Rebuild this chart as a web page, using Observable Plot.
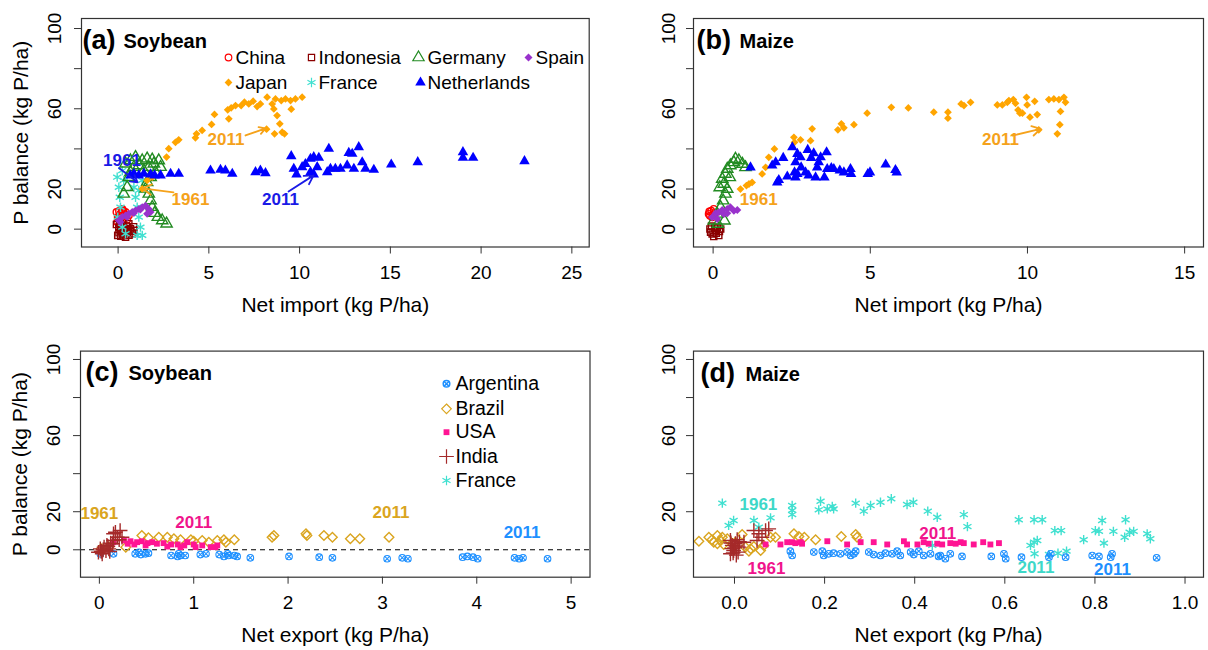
<!DOCTYPE html>
<html><head><meta charset="utf-8">
<script src="https://cdn.jsdelivr.net/npm/d3@7"></script>
<script src="https://cdn.jsdelivr.net/npm/@observablehq/plot@0.6"></script>
<style>
body{margin:0;background:#fff;font-family:"Liberation Sans",Arial,sans-serif;}
#wrap{position:relative;width:1208px;height:650px;overflow:hidden;}
#wrap svg{position:absolute;}
</style></head><body><div id="wrap"></div>
<script>
// ---------- (a) Soybean, net import: [net import, P balance] ----------
const soyImpChina = [[-0.09,8.5],[-0.02,6.0],[0.13,7.7],[0.28,9.3],[0.41,8.5],[0.59,6.8],[0.09,4.3],[-0.05,3.5],[0.50,4.7],[0.23,10.1],[0.35,6.5],[0.15,5.5],[0.05,9.0],[0.20,8.2],[0.45,7.2],[0.02,5.0],[0.30,4.0]];
const soyImpIndonesia = [[-0.09,2.3],[0.04,1.0],[0.13,-0.6],[0.31,-2.3],[0.50,-1.5],[0.68,0.2],[0.78,-2.3],[-0.02,-3.1],[0.23,1.8],[0.59,2.7],[0.87,-0.6],[0.41,-4.0],[0.20,-1.0],[0.60,-3.0],[0.05,-1.8],[0.15,-3.5],[0.32,0.5],[0.45,1.5],[0.70,-1.2],[0.85,1.2],[0.10,2.8],[0.38,-0.8],[0.55,-0.2],[0.25,-2.8]];
const soyImpGermany = [[0.41,32.6],[0.68,34.2],[0.96,35.9],[1.33,34.2],[1.60,35.1],[1.88,34.6],[2.24,34.2],[2.34,30.9],[2.06,28.4],[1.79,25.9],[1.60,23.4],[1.51,20.1],[1.69,17.6],[1.79,14.3],[1.88,11.0],[2.01,8.0],[2.19,6.0],[2.43,4.3],[2.67,2.7],[0.50,20.9],[0.31,17.6],[0.59,25.9],[0.87,30.9],[1.42,29.2],[1.14,31.7],[1.97,32.6],[0.68,28.4],[1.69,30.9]];
const soyImpSpain = [[0.04,4.3],[0.23,6.0],[0.41,6.8],[0.59,7.7],[0.78,8.5],[0.96,9.3],[1.14,10.1],[1.33,10.9],[1.51,11.7],[1.69,10.1],[1.79,8.5],[1.60,7.7],[0.13,3.5],[0.50,6.0],[0.87,8.0],[1.23,9.8]];
const soyImpJapan = [[1.33,20.1],[1.60,24.3],[1.88,25.9],[2.67,35.9],[2.79,40.1],[3.16,43.3],[3.34,44.5],[4.26,45.5],[4.32,47.5],[4.63,49.2],[5.15,52.2],[5.31,57.2],[6.10,55.0],[6.04,59.5],[6.23,60.5],[6.47,61.6],[6.78,61.6],[6.96,63.3],[7.20,62.4],[7.44,63.8],[7.66,61.1],[7.84,62.4],[8.21,65.8],[8.49,62.4],[8.58,59.9],[8.76,56.6],[8.91,52.5],[9.04,48.3],[8.62,47.5],[9.17,47.5],[8.67,64.9],[8.99,64.1],[9.22,64.9],[9.50,64.1],[9.77,64.9],[10.14,65.8],[9.54,59.8],[8.18,49.8]];
const soyImpFrance = [[-0.05,25.9],[0.04,20.9],[0.09,15.9],[0.13,10.9],[-0.02,6.0],[0.23,1.0],[0.41,-2.3],[0.23,29.2],[0.31,24.3],[0.87,20.9],[0.96,15.9],[1.05,10.9],[1.14,6.0],[1.23,1.0],[1.05,-3.1],[1.33,-3.1],[1.14,19.3],[1.33,24.3]];
const soyImpNetherlands = [[0.68,26.8],[0.87,27.6],[1.14,26.8],[1.42,27.6],[1.79,27.3],[2.01,26.8],[2.34,26.8],[2.89,27.6],[3.34,27.6],[5.09,29.2],[5.64,29.6],[5.91,29.2],[6.29,27.6],[7.57,28.4],[7.84,29.2],[8.12,27.9],[9.54,36.4],[9.68,30.1],[9.83,27.3],[10.14,30.9],[10.32,32.5],[10.60,35.1],[10.78,35.9],[11.06,35.6],[10.60,28.4],[10.78,27.3],[10.97,30.9],[11.61,40.1],[11.52,28.4],[11.70,30.1],[11.97,30.1],[12.25,30.1],[12.62,31.8],[12.71,38.0],[12.90,37.6],[13.26,40.9],[12.99,30.1],[13.45,33.3],[13.63,30.1],[14.09,29.6],[15.05,32.2],[16.51,33.4],[19.0,38.4],[19.0,35.6],[19.56,35.6],[22.39,33.9]];

// ---------- (b) Maize, net import ----------
const maizeImpChina = [[-0.14,7.6],[-0.06,9.2],[0.02,10.1],[-0.03,5.9],[-0.10,6.7],[-0.12,8.8],[0.05,8.0]];
const maizeImpIndonesia = [[-0.10,0.1],[-0.03,-2.4],[0.08,-0.7],[0.18,-3.2],[0.24,0.1],[0.02,-3.7],[0.13,0.9],[-0.05,1.5],[0.10,-2.0],[0.20,-1.2],[-0.08,-1.5],[0.05,0.5]];
const maizeImpGermany = [[0.02,4.2],[0.13,7.6],[0.24,10.9],[0.32,14.2],[0.39,17.6],[0.45,20.0],[0.34,22.5],[0.29,25.0],[0.39,27.5],[0.45,30.0],[0.55,31.7],[0.66,33.3],[0.71,35.0],[0.82,34.2],[0.93,32.5],[1.03,30.8],[0.53,25.8],[0.21,20.8],[0.15,2.6],[0.36,4.2]];
const maizeImpSpain = [[-0.03,5.9],[0.08,7.9],[0.18,8.4],[0.29,9.6],[0.45,10.1],[0.55,10.9],[0.66,9.2],[0.77,9.6],[0.34,7.6],[0.13,5.1],[0.45,7.9]];
const maizeImpJapan = [[0.87,20.0],[1.06,21.7],[1.14,22.5],[1.24,23.3],[1.56,27.5],[1.67,30.8],[1.77,35.8],[1.95,40.0],[2.57,45.8],[2.59,43.3],[2.78,44.5],[3.10,44.1],[3.15,50.0],[3.97,49.5],[4.08,52.5],[4.16,50.5],[4.48,52.1],[4.90,57.8],[5.67,60.7],[6.21,60.4],[7.02,58.3],[7.47,58.3],[7.47,55.3],[7.89,62.4],[7.98,61.6],[8.19,63.2],[9.04,61.9],[9.20,61.9],[9.41,64.1],[9.55,64.6],[9.62,62.7],[9.70,59.4],[9.84,57.8],[9.97,65.7],[9.99,61.9],[10.08,55.8],[10.23,63.7],[10.31,57.1],[10.36,49.5],[10.68,64.6],[10.84,64.9],[11.00,64.6],[11.16,65.7],[11.21,63.2],[11.05,58.7],[11.03,52.1],[10.95,47.5],[9.76,57.8],[9.36,63.2]];
const maizeImpNetherlands = [[1.19,30.8],[1.88,31.7],[1.99,33.3],[2.23,35.5],[2.04,23.3],[2.09,24.5],[2.36,26.2],[2.52,40.8],[2.59,28.3],[2.62,25.8],[2.62,33.3],[2.68,37.5],[2.78,35.8],[2.80,30.8],[2.94,28.3],[3.01,39.5],[3.04,26.7],[3.12,35.5],[3.20,37.8],[3.26,25.8],[3.31,30.8],[3.36,33.3],[3.42,35.8],[3.54,25.8],[3.61,38.3],[3.63,30.0],[3.76,30.5],[3.84,30.0],[4.03,29.2],[4.16,28.3],[4.37,30.0],[4.39,27.5],[4.92,27.5],[4.99,28.3],[5.49,32.2],[5.80,29.5],[5.84,28.3],[2.68,27.5]];

// ---------- (c) Soybean, net export ----------
const soyExpArgentina = [[0.01,-2.1],[0.15,-2.1],[0.38,-2.1],[0.44,-2.5],[0.49,-2.1],[0.52,-1.8],[0.76,-3.0],[0.83,-3.5],[0.86,-3.0],[0.91,-3.0],[1.07,-2.5],[1.13,-2.1],[1.27,-2.5],[1.32,-3.5],[1.37,-3.0],[1.43,-3.0],[1.46,-3.5],[1.60,-4.2],[2.01,-3.5],[2.33,-3.9],[2.47,-4.2],[0.42,-1.3],[0.84,-2.1],[1.36,-2.1],[3.05,-4.7],[3.21,-4.2],[3.27,-4.7],[3.85,-3.9],[3.90,-3.5],[3.96,-3.9],[4.01,-4.7],[4.40,-4.2],[4.45,-4.7],[4.49,-4.2],[4.75,-4.7]];
const soyExpBrazil = [[0.02,0.5],[0.10,1.5],[0.28,1.4],[0.45,7.5],[0.52,6.3],[0.63,6.6],[0.72,6.6],[0.79,5.8],[0.86,5.3],[0.97,5.3],[1.00,4.5],[1.09,4.9],[1.16,4.0],[1.25,4.9],[1.32,5.3],[1.34,4.0],[1.43,5.3],[1.83,6.6],[1.85,7.5],[2.19,8.4],[2.20,7.5],[2.38,7.5],[2.47,6.6],[2.66,5.8],[2.76,5.8],[3.07,6.6]];
const soyExpUSA = [[0.15,4.0],[0.26,4.9],[0.33,4.5],[0.40,4.0],[0.45,4.5],[0.51,3.5],[0.56,4.0],[0.61,3.2],[0.68,3.5],[0.76,2.8],[0.83,2.8],[0.90,2.3],[0.93,4.0],[1.00,2.8],[1.02,1.4],[1.09,2.3],[1.18,1.4],[1.23,1.4],[1.25,2.3],[0.30,3.2],[0.37,2.8],[0.49,2.3],[0.72,1.7],[0.86,1.4]];
const soyExpIndia = [[-0.01,-1.3],[0.01,0.5],[0.05,1.4],[0.08,2.3],[0.12,3.5],[0.15,4.9],[0.19,6.6],[0.17,9.2],[0.22,10.1],[0.15,8.4],[0.03,-2.1],[0.07,-0.4],[0.10,0.5],[0.14,3.2],[0.21,5.3],[0.24,6.6],[0.04,0.0],[0.09,1.8],[0.11,-0.9],[0.02,-0.8]];

// ---------- (d) Maize, net export ----------
const maizeExpArgentina = [[0.124,-0.7],[0.128,-3.0],[0.176,-1.2],[0.195,-0.7],[0.198,-3.0],[0.209,-2.1],[0.220,-1.8],[0.235,-2.1],[0.250,-1.2],[0.258,-3.0],[0.265,-2.1],[0.269,-0.7],[0.298,-1.2],[0.309,-2.5],[0.324,-3.0],[0.335,-1.8],[0.350,-2.1],[0.361,-0.7],[0.368,-3.0],[0.391,-1.2],[0.398,-2.5],[0.409,-0.7],[0.420,-3.0],[0.435,-2.1],[0.453,-3.5],[0.457,-3.0],[0.468,-4.7],[0.479,-2.1],[0.505,-3.5],[0.570,-3.5],[0.598,-2.1],[0.602,-4.7],[0.637,-3.9],[0.698,-3.9],[0.702,-2.1],[0.735,-3.9],[0.794,-3.0],[0.809,-3.5],[0.835,-3.9],[0.838,-2.1],[0.937,-4.2]];
const maizeExpBrazil = [[-0.079,4.5],[-0.057,6.6],[-0.050,5.3],[-0.046,4.0],[-0.038,3.2],[-0.031,4.9],[-0.024,2.8],[-0.016,5.8],[0.002,4.0],[0.017,8.0],[0.024,1.4],[0.032,-0.7],[0.036,0.5],[0.043,1.7],[0.058,-0.4],[0.065,2.3],[0.080,6.6],[0.091,6.6],[0.132,8.4],[0.143,7.0],[0.155,6.6],[0.180,5.3],[0.237,7.0],[0.269,8.0],[0.272,6.6],[-0.038,7.5],[-0.027,6.6]];
const maizeExpUSA = [[0.069,2.8],[0.102,2.8],[0.117,4.0],[0.128,4.0],[0.135,3.5],[0.147,4.0],[0.150,3.2],[0.206,4.5],[0.250,2.8],[0.280,4.0],[0.309,4.0],[0.339,2.8],[0.376,4.5],[0.383,2.8],[0.406,2.8],[0.420,4.0],[0.431,3.2],[0.450,3.2],[0.461,2.8],[0.479,3.5],[0.491,3.2],[0.502,4.0],[0.509,3.5],[0.531,2.8],[0.552,4.0],[0.568,2.8],[0.587,3.5]];
const maizeExpIndia = [[-0.009,4.9],[-0.005,2.3],[-0.002,-0.4],[0.002,3.2],[0.006,5.3],[0.010,1.4],[-0.009,-2.1],[0.043,10.1],[0.054,8.4],[0.061,6.6],[0.069,10.1],[0.076,11.0],[0.021,4.0],[0.050,4.9],[0.000,1.0],[0.008,-1.2],[-0.006,0.6],[0.004,-2.8],[-0.008,3.6],[0.011,4.2],[0.003,2.0],[-0.003,-1.6]];
const maizeExpFrance = [[-0.027,24.5],[-0.013,12.8],[-0.002,15.4],[0.043,15.4],[0.054,11.9],[0.080,16.8],[0.128,23.3],[0.128,20.7],[0.128,18.5],[0.191,25.5],[0.187,21.0],[0.206,21.5],[0.217,22.8],[0.220,21.5],[0.269,24.5],[0.287,20.3],[0.302,23.3],[0.324,25.0],[0.348,26.8],[0.383,23.8],[0.397,25.0],[0.429,20.3],[0.450,17.1],[0.439,2.3],[0.509,18.5],[0.517,12.2],[0.631,15.8],[0.665,15.8],[0.683,15.8],[0.711,10.1],[0.725,10.1],[0.657,2.3],[0.665,4.0],[0.672,4.9],[0.666,-2.1],[0.698,-2.5],[0.718,-1.8],[0.737,-0.7],[0.775,5.3],[0.801,10.1],[0.809,9.7],[0.816,15.4],[0.820,3.5],[0.841,9.7],[0.868,15.8],[0.866,6.6],[0.877,9.2],[0.886,9.7],[0.916,8.4],[0.923,5.8]];

// ---------- axis ticks ----------
const yTicks = [0, 20, 40, 60, 80, 100];
const yTickLabels = [0, 20, 60, 100];
const xTicksA = [0, 5, 10, 15, 20, 25];
const xTicksB = [0, 5, 10, 15];
const xTicksC = [0, 1, 2, 3, 4, 5];
const xTicksD = [0, 0.2, 0.4, 0.6, 0.8, 1.0];

// ---------- styles ----------
const STY = {
  China: {color: "#FF0000", symbol: "circle", filled: false, r: 3.3},
  Indonesia: {color: "#8B0000", symbol: "square", filled: false, r: 3.5},
  Germany: {color: "#228B22", symbol: "triangle", filled: false, r: 4.2},
  Spain: {color: "#9932CC", symbol: "diamond2", filled: true, r: 3.6},
  Japan: {color: "#FFA500", symbol: "diamond2", filled: true, r: 3.5},
  France: {color: "#40E0D0", symbol: "asterisk", filled: false, r: 4.4},
  Netherlands: {color: "#0000FF", symbol: "triangle", filled: true, r: 3.9},
  Argentina: {color: "#1E90FF", symbol: "circlex", r: 3.3},
  Brazil: {color: "#DAA520", symbol: "diamond2", filled: false, r: 4.3},
  USA: {color: "#FF1493", symbol: "square", filled: true, r: 3.3},
  India: {color: "#A52A2A", symbol: "plus", filled: false, r: 4.8}
};
const ANN = {orange: "#F5A21B", blue: "#1A1AE6", gold: "#DAA520", pink: "#F0148C", lblue: "#1E90FF", turq: "#3ED8C8"};
const FONT = "'Liberation Sans', Arial, sans-serif";

function dotMarks(data, st, extra = {}) {
  const base = {x: d => d[0], y: d => d[1], r: st.r, ...extra};
  if (st.symbol === "circlex") {
    return [
      Plot.dot(data, {...base, symbol: "circle", fill: "none", stroke: st.color, strokeWidth: 1.1}),
      Plot.dot(data, {...base, symbol: "times", stroke: st.color, strokeWidth: 1.1, r: st.r * 0.75})
    ];
  }
  if (st.filled) return [Plot.dot(data, {...base, symbol: st.symbol, fill: st.color, stroke: "none"})];
  return [Plot.dot(data, {...base, symbol: st.symbol, fill: "none", stroke: st.color, strokeWidth: 1.4})];
}

function legendMarks(items, fontSize) {
  const out = [];
  for (const it of items) {
    const st = STY[it.name];
    const pos = {frameAnchor: "top-left", dx: it.sx, dy: it.dy};
    if (st.symbol === "circlex") {
      out.push(Plot.dot([0], {...pos, symbol: "circle", fill: "none", stroke: st.color, r: st.r}));
      out.push(Plot.dot([0], {...pos, symbol: "times", stroke: st.color, r: st.r * 0.75}));
    } else if (st.filled) {
      out.push(Plot.dot([0], {...pos, symbol: st.symbol, fill: st.color, r: st.r}));
    } else {
      out.push(Plot.dot([0], {...pos, symbol: st.symbol, fill: "none", stroke: st.color, strokeWidth: 1.2, r: st.r}));
    }
    out.push(Plot.text([it.name], {frameAnchor: "top-left", dx: it.tx, dy: it.dy, textAnchor: "start", lineAnchor: "middle", fontSize, fill: "#000"}));
  }
  return out;
}

function panel(cfg) {
  const marks = [];
  if (cfg.zeroLine) marks.push(Plot.ruleY([0], {stroke: "#000", strokeDasharray: "5,4", strokeWidth: 1.1}));
  for (const [name, data] of cfg.series) marks.push(...dotMarks(data, STY[name]));
  for (const a of cfg.arrows || []) {
    marks.push(Plot.arrow([a.p], {x1: d => d[0], y1: d => d[1], x2: d => d[2], y2: d => d[3], stroke: a.color, strokeWidth: 1.8, headLength: 9}));
  }
  for (const a of cfg.notes || []) {
    marks.push(Plot.text([a.p], {x: d => d[0], y: d => d[1], text: () => a.t, fill: a.color, fontWeight: "bold", fontSize: 17}));
  }
  marks.push(Plot.frame({stroke: "#333", strokeWidth: 1.2}));
  marks.push(Plot.axisX(cfg.xTicks, {tickSize: 7, tickPadding: 11, tickFormat: cfg.xFormat, label: null, fontSize: 19, fill: "#000", stroke: "#333"}));
  marks.push(Plot.axisY(yTicks, {tickSize: 7, tickFormat: () => "", label: null, stroke: "#333"}));
  marks.push(Plot.text(yTickLabels, {y: d => d, text: d => String(d), frameAnchor: "left", dx: cfg.yLabDx, rotate: -90, textAnchor: "middle", lineAnchor: "middle", fontSize: 19, fill: "#000"}));
  marks.push(Plot.text([cfg.xTitle], {frameAnchor: "bottom", dy: 58.5, lineAnchor: "middle", fontSize: 21, fill: "#000"}));
  if (cfg.yTitle) marks.push(Plot.text([cfg.yTitle], {frameAnchor: "left", dx: -60, rotate: -90, textAnchor: "middle", lineAnchor: "middle", fontSize: 21, fill: "#000"}));
  marks.push(Plot.text([cfg.tag], {frameAnchor: "top-left", dx: cfg.tagDx, dy: cfg.tagDy, textAnchor: "start", lineAnchor: "middle", fontSize: 27, fontWeight: "bold", fill: "#000"}));
  marks.push(Plot.text([cfg.crop], {frameAnchor: "top-left", dx: cfg.cropDx, dy: cfg.tagDy + 1, textAnchor: "start", lineAnchor: "middle", fontSize: 20, fontWeight: "bold", fill: "#000"}));
  if (cfg.legend) marks.push(...legendMarks(cfg.legend, cfg.legendFont));

  const svg = Plot.plot({
    width: 604, height: 325,
    marginLeft: cfg.m[0], marginRight: cfg.m[1], marginTop: cfg.m[2], marginBottom: cfg.m[3],
    x: {domain: cfg.xDomain},
    y: {domain: cfg.yDomain},
    style: {fontFamily: FONT, fontSize: "19px", background: "transparent", overflow: "visible", color: "#000"},
    marks
  });
  svg.style.left = cfg.left + "px";
  svg.style.top = cfg.top + "px";
  document.getElementById("wrap").appendChild(svg);
}

// (a)
panel({
  left: 0, top: 0, m: [81, 15.3, 18, 78.5],
  xDomain: [-2.017, 25.956], yDomain: [-8.9, 105],
  xTicks: xTicksA, xFormat: d3.format("d"), yLabDx: -27,
  xTitle: "Net import (kg P/ha)", yTitle: "P balance (kg P/ha)",
  tag: "(a)", crop: "Soybean", tagDx: 1, cropDx: 42, tagDy: 22,
  series: [["China", soyImpChina], ["Indonesia", soyImpIndonesia], ["France", soyImpFrance], ["Germany", soyImpGermany], ["Spain", soyImpSpain], ["Japan", soyImpJapan], ["Netherlands", soyImpNetherlands]],
  arrows: [
    {p: [0.05, 30.5, 1.07, 23.3], color: ANN.blue},
    {p: [3.05, 18.3, 1.34, 20.3], color: ANN.orange},
    {p: [7.02, 46.7, 8.12, 50.2], color: ANN.orange},
    {p: [9.39, 18.8, 10.77, 26.8], color: ANN.blue}
  ],
  notes: [
    {p: [0.21, 34.2], t: "1961", color: ANN.blue},
    {p: [3.99, 14.8], t: "1961", color: ANN.orange},
    {p: [5.94, 44.7], t: "2011", color: ANN.orange},
    {p: [8.95, 14.8], t: "2011", color: ANN.blue}
  ],
  legendFont: 19,
  legend: [
    {name: "China", sx: 147, tx: 154, dy: 39},
    {name: "Indonesia", sx: 230, tx: 237, dy: 39},
    {name: "Germany", sx: 337, tx: 346, dy: 39},
    {name: "Spain", sx: 447, tx: 454, dy: 39},
    {name: "Japan", sx: 147, tx: 154, dy: 64},
    {name: "France", sx: 230, tx: 237, dy: 64},
    {name: "Netherlands", sx: 339, tx: 346, dy: 64}
  ]
});

// (b)
panel({
  left: 604, top: 0, m: [89, 5, 18, 78.5],
  xDomain: [-0.624, 15.60], yDomain: [-8.9, 105],
  xTicks: xTicksB, xFormat: d3.format("d"), yLabDx: -25,
  xTitle: "Net import (kg P/ha)",
  tag: "(b)", crop: "Maize", tagDx: 3, cropDx: 46, tagDy: 22,
  series: [["China", maizeImpChina], ["Indonesia", maizeImpIndonesia], ["Germany", maizeImpGermany], ["Spain", maizeImpSpain], ["Japan", maizeImpJapan], ["Netherlands", maizeImpNetherlands]],
  arrows: [{p: [9.52, 46.6, 10.42, 50.0], color: ANN.orange}],
  notes: [
    {p: [1.45, 14.6], t: "1961", color: ANN.orange},
    {p: [9.14, 44.5], t: "2011", color: ANN.orange}
  ]
});

// (c)
panel({
  left: 0, top: 325, m: [80, 14.5, 25.6, 73.3],
  xDomain: [-0.2, 5.2], yDomain: [-14.4, 104.4], zeroLine: true,
  xTicks: xTicksC, xFormat: d3.format("d"), yLabDx: -27,
  xTitle: "Net export (kg P/ha)", yTitle: "P balance (kg P/ha)",
  tag: "(c)", crop: "Soybean", tagDx: 5, cropDx: 48, tagDy: 21,
  series: [["Brazil", soyExpBrazil], ["Argentina", soyExpArgentina], ["USA", soyExpUSA], ["India", soyExpIndia]],
  notes: [
    {p: [0.0, 19.2], t: "1961", color: ANN.gold},
    {p: [1.0, 14.5], t: "2011", color: ANN.pink},
    {p: [3.09, 19.4], t: "2011", color: ANN.gold},
    {p: [4.48, 8.9], t: "2011", color: ANN.lblue}
  ],
  legendFont: 19.5,
  legend: [
    {name: "Argentina", sx: 366, tx: 375, dy: 32.7},
    {name: "Brazil", sx: 366, tx: 375, dy: 57.7},
    {name: "USA", sx: 366, tx: 375, dy: 81.1},
    {name: "India", sx: 366, tx: 375, dy: 105.4},
    {name: "France", sx: 366, tx: 375, dy: 129.4}
  ]
});

// (d)
panel({
  left: 604, top: 325, m: [89, 5, 25.6, 73.3],
  xDomain: [-0.091, 1.041], yDomain: [-14.4, 104.4],
  xTicks: xTicksD, xFormat: d3.format(".1f"), yLabDx: -25,
  xTitle: "Net export (kg P/ha)",
  tag: "(d)", crop: "Maize", tagDx: 7, cropDx: 52, tagDy: 22.7,
  series: [["France", maizeExpFrance], ["Brazil", maizeExpBrazil], ["Argentina", maizeExpArgentina], ["USA", maizeExpUSA], ["India", maizeExpIndia]],
  notes: [
    {p: [0.053, 23.8], t: "1961", color: ANN.turq},
    {p: [0.071, -10], t: "1961", color: ANN.pink},
    {p: [0.451, 8.7], t: "2011", color: ANN.pink},
    {p: [0.669, -9.5], t: "2011", color: ANN.turq},
    {p: [0.839, -10.5], t: "2011", color: ANN.lblue}
  ]
});
</script></body></html>
